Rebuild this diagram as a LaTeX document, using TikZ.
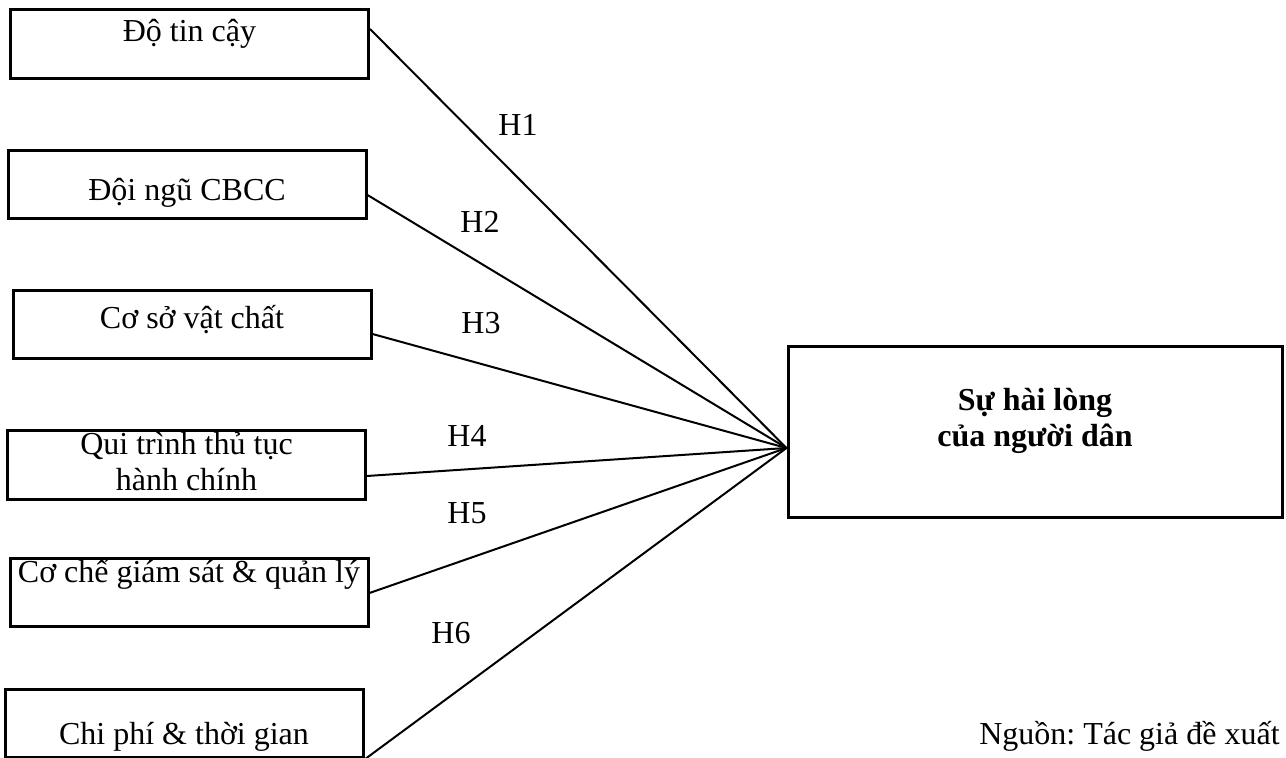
\documentclass[tikz,border=0pt]{standalone}
\usepackage{fontspec}
\setmainfont{Liberation Serif}
\frenchspacing
\begin{document}
\begin{tikzpicture}[x=0.5pt, y=-0.5pt,
        every node/.style={font=\fontsize{16}{18}\selectfont},
        factor/.style={draw, line width=1.5pt, inner sep=0pt, minimum width=179pt},
        outcome/.style={draw, line width=1.5pt, inner sep=0pt, minimum width=247pt, font=\fontsize{16}{18}\selectfont\bfseries},
        link/.style={line width=1pt}]
            \useasboundingbox (0,0) rectangle (1286,758);

            \node[factor, text height=16pt, text depth=18.5pt] (b1) at (189.5,44.5) {Độ tin cậy};
            \node[factor, text height=25pt, text depth=9pt] (b2) at (187,185) {Đội ngũ CBCC};
            \node[factor, text height=19pt, text depth=15pt] (b3) at (192,325) {Cơ sở vật chất};
            \node[factor, text height=30pt, text depth=4.5pt] (b4) at (186.5,465.5) {\begin{tabular}[b]{@{}c@{}}Qui trình thủ tục\\hành chính\end{tabular}};
            \node[factor, text height=12pt, text depth=22pt] (b5) at (189,593) {Cơ chế giám sát \& quản lý};
            \node[factor, text height=27.5pt, text depth=6.5pt] (b6) at (184,724) {Chi phí \& thời gian};

            \node[outcome, text height=50pt, text depth=35.5pt] (hl) at (1035,432.5) {\begin{tabular}[b]{@{}c@{}}Sự hài lòng\\của người dân\end{tabular}};

            \draw[link] ([yshift=7.75pt]b1.east) -- ([yshift=-7.75pt]hl.west);
            \draw[link] ([yshift=-5pt]b2.east) -- ([yshift=-7.75pt]hl.west);
            \draw[link] ([yshift=-4.5pt]b3.east) -- ([yshift=-7.75pt]hl.west);
            \draw[link] ([yshift=-5.25pt]b4.east) -- ([yshift=-7.75pt]hl.west);
            \draw[link] (b5.east) -- ([yshift=-7.75pt]hl.west);
            \draw[link] (b6.south east) -- ([yshift=-7.75pt]hl.west);

            \node (h1) at (518,125) {H1};
            \node (h2) at (480,222) {H2};
            \node (h3) at (481,323) {H3};
            \node (h4) at (467,436) {H4};
            \node (h5) at (467,513) {H5};
            \node (h6) at (451,633) {H6};

            \node[anchor=base east, inner xsep=0pt] (src) at (1280,745) {Nguồn: Tác giả đề xuất};
        \end{tikzpicture}
\end{document}
